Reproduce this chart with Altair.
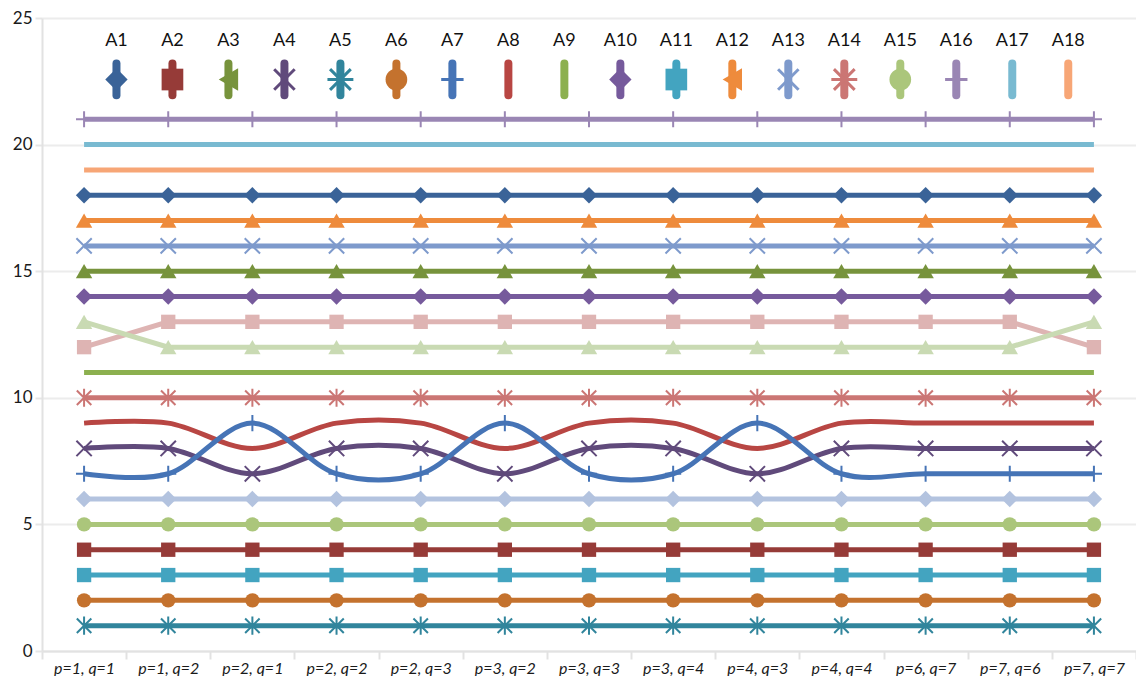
import altair as alt
import pandas as pd

categories = ["p=1, q=1", "p=1, q=2", "p=2, q=1", "p=2, q=2", "p=2, q=3",
              "p=3, q=2", "p=3, q=3", "p=3, q=4", "p=4, q=3", "p=4, q=4",
              "p=6, q=7", "p=7, q=6", "p=7, q=7"]

series_names = ["A1", "A2", "A3", "A4", "A5", "A6", "A7", "A8", "A9", "A10",
                "A11", "A12", "A13", "A14", "A15", "A16", "A17", "A18",
                "A19", "A20", "A21"]
legend_names = series_names[:18]

A1 = [18, 18, 18, 18, 18, 18, 18, 18, 18, 18, 18, 18, 18]
A2 = [4, 4, 4, 4, 4, 4, 4, 4, 4, 4, 4, 4, 4]
A3 = [15, 15, 15, 15, 15, 15, 15, 15, 15, 15, 15, 15, 15]
A4 = [8, 8, 7, 8, 8, 7, 8, 8, 7, 8, 8, 8, 8]
A5 = [1, 1, 1, 1, 1, 1, 1, 1, 1, 1, 1, 1, 1]
A6 = [2, 2, 2, 2, 2, 2, 2, 2, 2, 2, 2, 2, 2]
A7 = [7, 7, 9, 7, 7, 9, 7, 7, 9, 7, 7, 7, 7]
A8 = [9, 9, 8, 9, 9, 8, 9, 9, 8, 9, 9, 9, 9]
A9 = [11, 11, 11, 11, 11, 11, 11, 11, 11, 11, 11, 11, 11]
A10 = [14, 14, 14, 14, 14, 14, 14, 14, 14, 14, 14, 14, 14]
A11 = [3, 3, 3, 3, 3, 3, 3, 3, 3, 3, 3, 3, 3]
A12 = [17, 17, 17, 17, 17, 17, 17, 17, 17, 17, 17, 17, 17]
A13 = [16, 16, 16, 16, 16, 16, 16, 16, 16, 16, 16, 16, 16]
A14 = [10, 10, 10, 10, 10, 10, 10, 10, 10, 10, 10, 10, 10]
A15 = [5, 5, 5, 5, 5, 5, 5, 5, 5, 5, 5, 5, 5]
A16 = [21, 21, 21, 21, 21, 21, 21, 21, 21, 21, 21, 21, 21]
A17 = [20, 20, 20, 20, 20, 20, 20, 20, 20, 20, 20, 20, 20]
A18 = [19, 19, 19, 19, 19, 19, 19, 19, 19, 19, 19, 19, 19]
A19 = [6, 6, 6, 6, 6, 6, 6, 6, 6, 6, 6, 6, 6]
A20 = [12, 13, 13, 13, 13, 13, 13, 13, 13, 13, 13, 13, 12]
A21 = [13, 12, 12, 12, 12, 12, 12, 12, 12, 12, 12, 12, 13]

values = {"A1": A1, "A2": A2, "A3": A3, "A4": A4, "A5": A5, "A6": A6, "A7": A7,
          "A8": A8, "A9": A9, "A10": A10, "A11": A11, "A12": A12, "A13": A13,
          "A14": A14, "A15": A15, "A16": A16, "A17": A17, "A18": A18,
          "A19": A19, "A20": A20, "A21": A21}

colors = {"A1": "#3A6398", "A2": "#963B38", "A3": "#77933C", "A4": "#604A7B",
          "A5": "#31859C", "A6": "#C4722E", "A7": "#4674B6", "A8": "#B84643",
          "A9": "#8CB04F", "A10": "#765A9C", "A11": "#43A4C0", "A12": "#EE8B3C",
          "A13": "#7E9ACC", "A14": "#CB7674", "A15": "#ABC67B", "A16": "#9A86B4",
          "A17": "#79BAD1", "A18": "#F7A676", "A19": "#B3C3DF", "A20": "#DEB4B3",
          "A21": "#C9DAB3"}

PLUS = "M-1,0L1,0M0,-1L0,1"
XMARK = "M-1,-1L1,1M-1,1L1,-1"
STAR = "M-1,-1L1,1M-1,1L1,-1M0,-1.25L0,1.25"

# marker kind -> (shape, filled, plot size, legend size)
marker_kinds = {
    "diamond": ("diamond", True, 270, 500),
    "square": ("square", True, 205, 470),
    "triangle": ("triangle-up", True, 270, 500),
    "circle": ("circle", True, 205, 470),
    "plus": (PLUS, False, 260, 500),
    "x": (XMARK, False, 235, 420),
    "star": (STAR, False, 210, 430),
}
markers = {"A1": "diamond", "A2": "square", "A3": "triangle", "A4": "x",
           "A5": "star", "A6": "circle", "A7": "plus", "A10": "diamond",
           "A11": "square", "A12": "triangle", "A13": "x", "A14": "star",
           "A15": "circle", "A16": "plus", "A19": "diamond", "A20": "square",
           "A21": "triangle"}
smooth_series = ["A8", "A4", "A7"]

rows = []
for s in series_names:
    for c, v in zip(categories, values[s]):
        rows.append({"cat": c, "series": s, "value": v})
df = pd.DataFrame(rows)

leg_df = pd.DataFrame({"name": legend_names,
                       "li": list(range(1, len(legend_names) + 1))})

FONT = "Lato"

color_enc = alt.Color("series:N",
                      scale=alt.Scale(domain=series_names,
                                      range=[colors[s] for s in series_names]),
                      legend=None)
x_enc = alt.X("cat:N", sort=categories, bandPosition=0.5,
              scale=alt.Scale(type="band", domain=categories,
                              paddingInner=0, paddingOuter=0),
              axis=alt.Axis(title=None, labelAngle=0, labelFontSize=16,
                            labelFont=FONT, labelFontStyle="italic",
                            labelColor="#1a1a1a", tickBand="extent", tickSize=8,
                            tickColor="#e2e2e2", tickWidth=2,
                            domainColor="#e2e2e2", domainWidth=2,
                            labelPadding=1, grid=False))
y_enc = alt.Y("value:Q", scale=alt.Scale(domain=[0, 25], nice=False),
              axis=alt.Axis(values=[0, 5, 10, 15, 20, 25], title=None,
                            labelFontSize=17, labelFont=FONT, labelColor="#1a1a1a",
                            labelPadding=3, tickSize=7, tickColor="#e6e6e6",
                            tickWidth=2, domainColor="#e2e2e2", domainWidth=2,
                            gridColor="#ececec", gridWidth=2))

base = alt.Chart(df)
straight = [s for s in series_names if s not in smooth_series]

layers = [
    base.transform_filter(alt.FieldOneOfPredicate(field="series", oneOf=straight))
        .mark_line(strokeWidth=5)
        .encode(x=x_enc, y=y_enc, color=color_enc, detail="series:N")
]
for s in smooth_series:
    layers.append(
        base.transform_filter(alt.FieldEqualPredicate(field="series", equal=s))
            .mark_line(strokeWidth=5, interpolate="cardinal")
            .encode(x=x_enc, y=y_enc, color=color_enc)
    )
for kind, (shape, filled, psize, lsize) in marker_kinds.items():
    members = [s for s in series_names if markers.get(s) == kind]
    layers.append(
        base.transform_filter(alt.FieldOneOfPredicate(field="series", oneOf=members))
            .mark_point(shape=shape, filled=filled, size=psize, opacity=1,
                        strokeWidth=(0 if filled else 2))
            .encode(x=x_enc, y=y_enc, color=color_enc)
    )
main = alt.layer(*layers)

# custom legend (rotated samples, labels above)
leg_base = alt.Chart(leg_df)
lx = alt.X("li:Q", scale=alt.Scale(domain=[-0.33, 19.21], nice=False, zero=False),
           axis=None)
lcolor = alt.Color("name:N",
                   scale=alt.Scale(domain=series_names,
                                   range=[colors[s] for s in series_names]),
                   legend=None)
leg_layers = [
    leg_base.mark_rule(strokeWidth=8, strokeCap="round")
        .encode(x=lx, y=alt.datum(23.2), y2=alt.datum(21.95), color=lcolor)
]
for kind, (shape, filled, psize, lsize) in marker_kinds.items():
    members = [s for s in legend_names if markers.get(s) == kind]
    leg_layers.append(
        leg_base.transform_filter(alt.FieldOneOfPredicate(field="name", oneOf=members))
            .mark_point(shape=shape, filled=filled, size=lsize, opacity=1,
                        angle=270, strokeWidth=(0 if filled else 3))
            .encode(x=lx, y=alt.datum(22.57), color=lcolor)
    )
leg_layers.append(
    leg_base.mark_text(fontSize=18, font=FONT, color="#111", baseline="middle")
        .encode(x=lx, y=alt.datum(24.1), text="name:N")
)
legend = alt.layer(*leg_layers)

chart = alt.layer(main, legend).resolve_scale(x="independent", color="independent").properties(
    width=1094, height=633,
    autosize=alt.AutoSizeParams(type="none"),
    padding={"left": 34, "top": 10, "right": 0, "bottom": 25},
    background="white",
).configure_view(stroke=None)

chart.save("out.html", embed_options={"renderer": "svg", "actions": False})
